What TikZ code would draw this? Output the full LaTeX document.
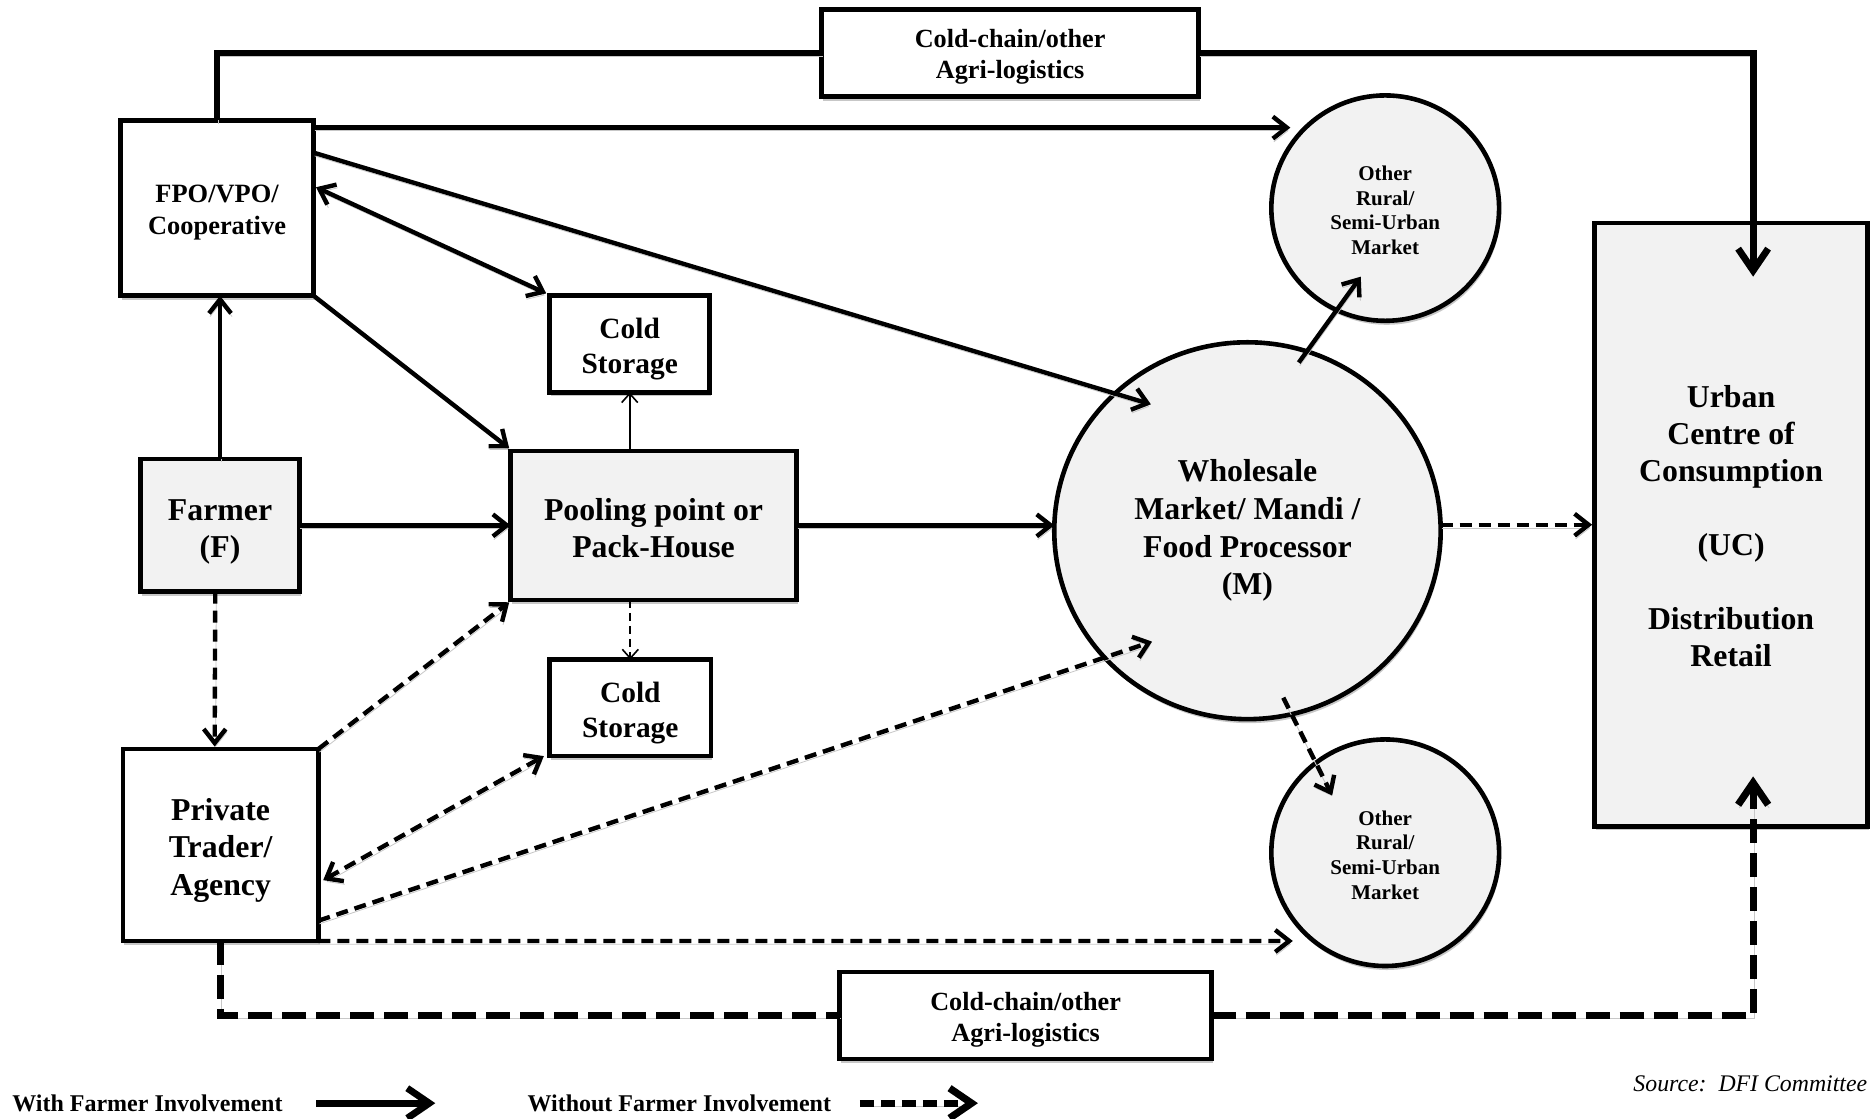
\documentclass[tikz,border=0pt]{standalone}
\usepackage{fontspec}
\setmainfont{Liberation Serif}
\usetikzlibrary{arrows.meta,shapes.geometric,calc,shadows}
\newcommand\pxu{0.5963pt}
\begin{document}
\begin{tikzpicture}[x=0.5963pt,y=-0.5963pt,
  shad/.style={drop shadow={shadow xshift=0.7pt, shadow yshift=-2.0pt, opacity=0.22, fill=black}},
  lshad/.style={preaction={draw=black!22, transform canvas={xshift=0.5pt, yshift=-1.6pt}}},
  box/.style={draw, rectangle, line width=2.3pt, inner sep=0pt, outer sep=0pt, fill=white, shad},
  gbox/.style={box, fill=black!5},
  circ/.style={draw, ellipse, line width=2.3pt, inner sep=0pt, outer sep=0pt, fill=black!5, shad},
  txt/.style={align=center, inner sep=0pt},
  bigf/.style={font=\fontsize{15.9}{18.8}\selectfont\bfseries},
  ucf/.style={font=\fontsize{15.9}{18.5}\selectfont\bfseries},
  fpof/.style={font=\fontsize{13.2}{16.1}\selectfont\bfseries},
  csf/.style={font=\fontsize{14.7}{17.3}\selectfont\bfseries},
  logf/.style={font=\fontsize{13.1}{15.5}\selectfont\bfseries},
  smallf/.style={font=\fontsize{10.5}{12.3}\selectfont\bfseries},
  legf/.style={font=\fontsize{12}{14}\selectfont\bfseries, inner sep=0pt, anchor=west},
  conn/.style={lshad, line width=2.2pt, -{Straight Barb[length=7pt,width=11pt]}},
  dconn/.style={conn, dash pattern=on 6pt off 3.5pt},
  bconn/.style={lshad, line width=2.2pt, {Straight Barb[length=7pt,width=11pt]}-{Straight Barb[length=7pt,width=11pt]}},
  dbconn/.style={bconn, dash pattern=on 6pt off 3.5pt},
  thinconn/.style={line width=0.8pt, -{Straight Barb[length=4.5pt,width=8pt]}},
  dthinconn/.style={thinconn, dash pattern=on 4pt off 2.5pt},
  lline/.style={lshad, line width=3.4pt},
  logline/.style={lline, -{Straight Barb[length=11pt,width=15pt]}},
  dlline/.style={lshad, line width=3.6pt, dash pattern=on 12pt off 5pt},
  dlogline/.style={dlline, -{Straight Barb[length=11pt,width=15pt]}}
]
\useasboundingbox (0,0) rectangle (1568,938);

% nodes
\node[box, minimum width=316*\pxu, minimum height=73*\pxu,
  label={[name=logtopt, txt, logf, yshift=-3*\pxu]center:Cold-chain/other\\Agri-logistics}] (logtop) at (847,44.5) {};
\node[box, minimum width=162*\pxu, minimum height=147*\pxu,
  label={[name=fpot, txt, fpof, yshift=-4*\pxu]center:FPO/VPO/\\Cooperative}] (fpo) at (182,174.5) {};
\node[gbox, minimum width=133*\pxu, minimum height=111*\pxu,
  label={[name=farmert, txt, bigf, yshift=-5.5*\pxu]center:Farmer\\(F)}] (farmer) at (184.5,440.5) {};
\node[box, minimum width=164*\pxu, minimum height=161*\pxu,
  label={[name=tradert, txt, bigf, yshift=-4.5*\pxu]center:Private\\Trader/\\Agency}] (trader) at (185,708.5) {};
\node[box, minimum width=134*\pxu, minimum height=81*\pxu,
  label={[name=cs1t, txt, csf, yshift=-4*\pxu]center:Cold\\Storage}] (cs1) at (528,288.5) {};
\node[gbox, minimum width=240*\pxu, minimum height=125*\pxu,
  label={[name=poolt, txt, bigf, yshift=-2.5*\pxu]center:Pooling point or\\Pack-House}] (pool) at (548,440.5) {};
\node[box, minimum width=135*\pxu, minimum height=81*\pxu,
  label={[name=cs2t, txt, csf, yshift=-4.5*\pxu]center:Cold\\Storage}] (cs2) at (528.5,593.5) {};
\node[circ, minimum width=324*\pxu, minimum height=316*\pxu,
  label={[name=wmt, txt, bigf]center:Wholesale\\Market/ Mandi /\\Food Processor\\(M)}] (wm) at (1046,445) {};
\node[circ, minimum width=191*\pxu, minimum height=189*\pxu,
  label={[name=r1t, txt, smallf, yshift=-2*\pxu]center:Other\\Rural/\\Semi-Urban\\Market}] (r1) at (1161.5,174.5) {};
\node[circ, minimum width=191*\pxu, minimum height=190*\pxu,
  label={[name=r2t, txt, smallf, yshift=-2*\pxu]center:Other\\Rural/\\Semi-Urban\\Market}] (r2) at (1161.5,715) {};
\node[gbox, minimum width=229*\pxu, minimum height=506*\pxu,
  label={[name=uct, txt, ucf, yshift=-1.5*\pxu]center:Urban\\Centre of\\Consumption\\~\\(UC)\\~\\Distribution\\Retail}] (uc) at (1451.5,440) {};
\node[box, minimum width=312*\pxu, minimum height=73*\pxu,
  label={[name=logbott, txt, logf, yshift=-3.5*\pxu]center:Cold-chain/other\\Agri-logistics}] (logbot) at (860,851.5) {};

% legend
\node[legf] (leg1) at (10,925) {With Farmer Involvement};
\node[legf] (leg2) at (442,925) {Without Farmer Involvement};
\node[font=\fontsize{11.9}{14}\selectfont\itshape, inner sep=0pt, anchor=east] (src) at (1566,909) {Source:~~DFI Committee};
\coordinate (l1a) at (265,925);
\coordinate (l1b) at (365,925);
\coordinate (l2a) at (721,925);
\coordinate (l2b) at (820,925);
\draw[logline] (l1a) -- (l1b);
\draw[dlogline, dash pattern=on 7pt off 3.5pt] (l2a) -- (l2b);

% logistics paths
\draw[lline] (fpo.north) |- (logtop.west);
\draw[logline] (logtop.east) -| ($(uc.north)+(18.5,45)$);
\draw[dlline] (trader.south) |- (logbot.west);
\draw[dlogline] (logbot.east) -| ($(uc.south)+(18.5,-42)$);

% solid connectors
\draw[conn] ($(fpo.north east)+(0,6)$) -- ($(r1.center)+(-79.5,-67.5)$);
\draw[conn] ($(fpo.north east)+(0,27)$) -- ($(wm.center)+(-81,-106)$);
\draw[bconn] ($(fpo.east)+(2,-17.5)$) -- ($(cs1.north west)+(-3,-2)$);
\draw[conn] (fpo.south east) -- ($(pool.north west)+(-1,-2)$);
\draw[conn] (farmer.north) -- (farmer.north |- fpo.south);
\draw[conn] (farmer.east) -- (pool.west);
\draw[conn] (pool.east) -- (pool.east -| wm.west);
\draw[conn] ($(wm.center)+(43,-141)$) -- ($(r1.center)+(-20.5,57.5)$);
\draw[thinconn] (cs1.south |- pool.north) -- (cs1.south);

% dashed connectors
\draw[dthinconn] (cs2.north |- pool.south) -- (cs2.north);
\draw[dconn] ($(farmer.south)+(-4,0)$) -- ($(trader.north)+(-5,-2)$);
\draw[dconn] (trader.north east) -- ($(pool.south west)+(-1,2)$);
\draw[dbconn] ($(trader.east)+(4,29.5)$) -- ($(cs2.south west)+(-5,0)$);
\draw[dconn] ($(trader.east)+(0,63.5)$) -- ($(wm.center)+(-80,93)$);
\draw[dconn] (trader.south east) -- ($(r2.center)+(-77.5,74)$);
\draw[dconn] (wm.east |- uc.west) -- ($(uc.west)+(-2,0)$);
\draw[dconn] ($(wm.center)+(30,140)$) -- ($(r2.center)+(-44.5,-48)$);
\end{tikzpicture}
\end{document}
